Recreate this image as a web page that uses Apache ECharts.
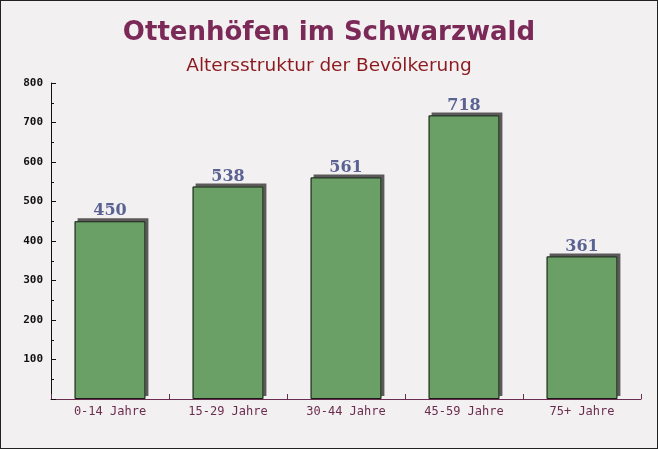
<!DOCTYPE html>
<html><head><meta charset="utf-8">
<script src="https://cdn.jsdelivr.net/npm/echarts@6/dist/echarts.min.js"></script>
<style>
html,body{margin:0;padding:0;background:#f3f0f2;}
#c{width:656px;height:447px;border:1px solid #222;}
</style></head>
<body><div id="c"></div>
<script>
const titleText = 'Ottenhöfen im Schwarzwald';
const subtitleText = 'Altersstruktur der Bevölkerung';
const categories = ['0-14 Jahre', '15-29 Jahre', '30-44 Jahre', '45-59 Jahre', '75+ Jahre'];
const values = [450, 538, 561, 718, 361];
const yMin = 0, yMax = 800, yStep = 100;

const chart = echarts.init(document.getElementById('c'));
chart.setOption({
  backgroundColor: '#f3f0f2',
  animation: false,
  title: [
    {text: titleText, left: 'center', top: 14,
     textStyle: {fontFamily: 'DejaVu Sans', fontWeight: 'bold', fontSize: 26, color: '#7b2a58'}},
    {text: subtitleText, left: 'center', top: 51,
     textStyle: {fontFamily: 'DejaVu Sans', fontWeight: 'normal', fontSize: 18.5, color: '#8b1a1f'}}
  ],
  grid: {left: 50, right: 16, top: 82, bottom: 49, containLabel: false},
  xAxis: {
    type: 'category', data: categories,
    axisLine: {lineStyle: {color: '#6b2d4f', width: 1}},
    axisTick: {show: true, inside: true, length: 5, lineStyle: {color: '#6b2d4f'}},
    axisLabel: {fontFamily: 'DejaVu Sans Mono', fontSize: 12, color: '#6b2d4f', margin: 7}
  },
  yAxis: {
    type: 'value', min: yMin, max: yMax, interval: yStep,
    axisLine: {show: true, lineStyle: {color: '#111', width: 1}},
    axisTick: {show: true, inside: true, length: 5, lineStyle: {color: '#111'}},
    minorTick: {show: true, splitNumber: 2, length: 3, lineStyle: {color: '#111'}},
    splitLine: {show: false},
    axisLabel: {fontFamily: 'DejaVu Sans Mono', fontWeight: 'bold', fontSize: 11, color: '#111', margin: 8,
      formatter: v => v === 0 ? '' : String(v)}
  },
  series: [{
    type: 'bar', data: values, barWidth: '60%', z: 2,
    itemStyle: {color: '#6aa066', borderWidth: 0,
      shadowColor: '#5c595a', shadowBlur: 0, shadowOffsetX: 3, shadowOffsetY: -3},
    label: {show: true, position: 'top', distance: 2,
      fontFamily: 'DejaVu Serif', fontWeight: 'bold', fontSize: 16, color: '#5a6292'}
  }, {
    type: 'bar', data: values, barWidth: '60%', barGap: '-100%', z: 3,
    itemStyle: {color: 'rgba(0,0,0,0)', borderColor: '#1a1a1a', borderWidth: 1},
    silent: true
  }]
});
</script></body></html>
